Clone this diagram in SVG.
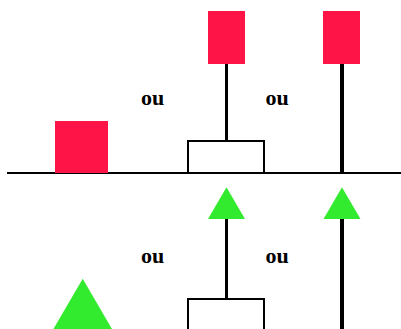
<svg xmlns="http://www.w3.org/2000/svg" width="401" height="329" viewBox="0 0 401 329">
<style>
.red{fill:#fe1446;}
.green{fill:#32ea2e;}
.box{fill:#fff;stroke:#000;stroke-width:2;}
.stem{stroke:#000;stroke-width:3;fill:none;}
.stemb{stroke:#000;stroke-width:4;fill:none;}
.ground{stroke:#000;stroke-width:2;fill:none;}
.lbl{font-family:"Liberation Serif","Times New Roman",serif;font-weight:bold;font-size:22px;fill:#000;}
</style>
<rect width="401" height="329" fill="#fff"/>
<g id="connectors">
<line class="ground" x1="7" y1="173" x2="401" y2="173"/>
<line class="stem" x1="226.5" y1="64" x2="226.5" y2="141"/>
<line class="stemb" x1="342" y1="64" x2="342" y2="173"/>
<line class="stem" x1="226.5" y1="218" x2="226.5" y2="299"/>
<line class="stemb" x1="342" y1="218" x2="342" y2="329"/>
</g>
<g id="red-square"><rect class="red" x="55" y="121" width="53" height="52"/></g>
<g id="red-top-left"><rect class="red" x="208" y="11" width="37" height="53"/></g>
<g id="red-top-right"><rect class="red" x="323" y="11" width="37" height="53"/></g>
<g id="box-top"><rect class="box" x="188" y="141" width="76" height="32"/></g>
<g id="green-big"><polygon class="green" points="82.7,278.7 47,340 118.4,340"/></g>
<g id="green-left"><polygon class="green" points="226.5,187.3 208,219 245,219"/></g>
<g id="green-right"><polygon class="green" points="342,187.3 323.5,219 360.5,219"/></g>
<g id="box-bottom"><rect class="box" x="188" y="299" width="76" height="40"/></g>
<g id="labels">
<text class="lbl" x="152.5" y="105" text-anchor="middle">ou</text>
<text class="lbl" x="277" y="105" text-anchor="middle">ou</text>
<text class="lbl" x="152.5" y="263" text-anchor="middle">ou</text>
<text class="lbl" x="277" y="263" text-anchor="middle">ou</text>
</g>
</svg>
